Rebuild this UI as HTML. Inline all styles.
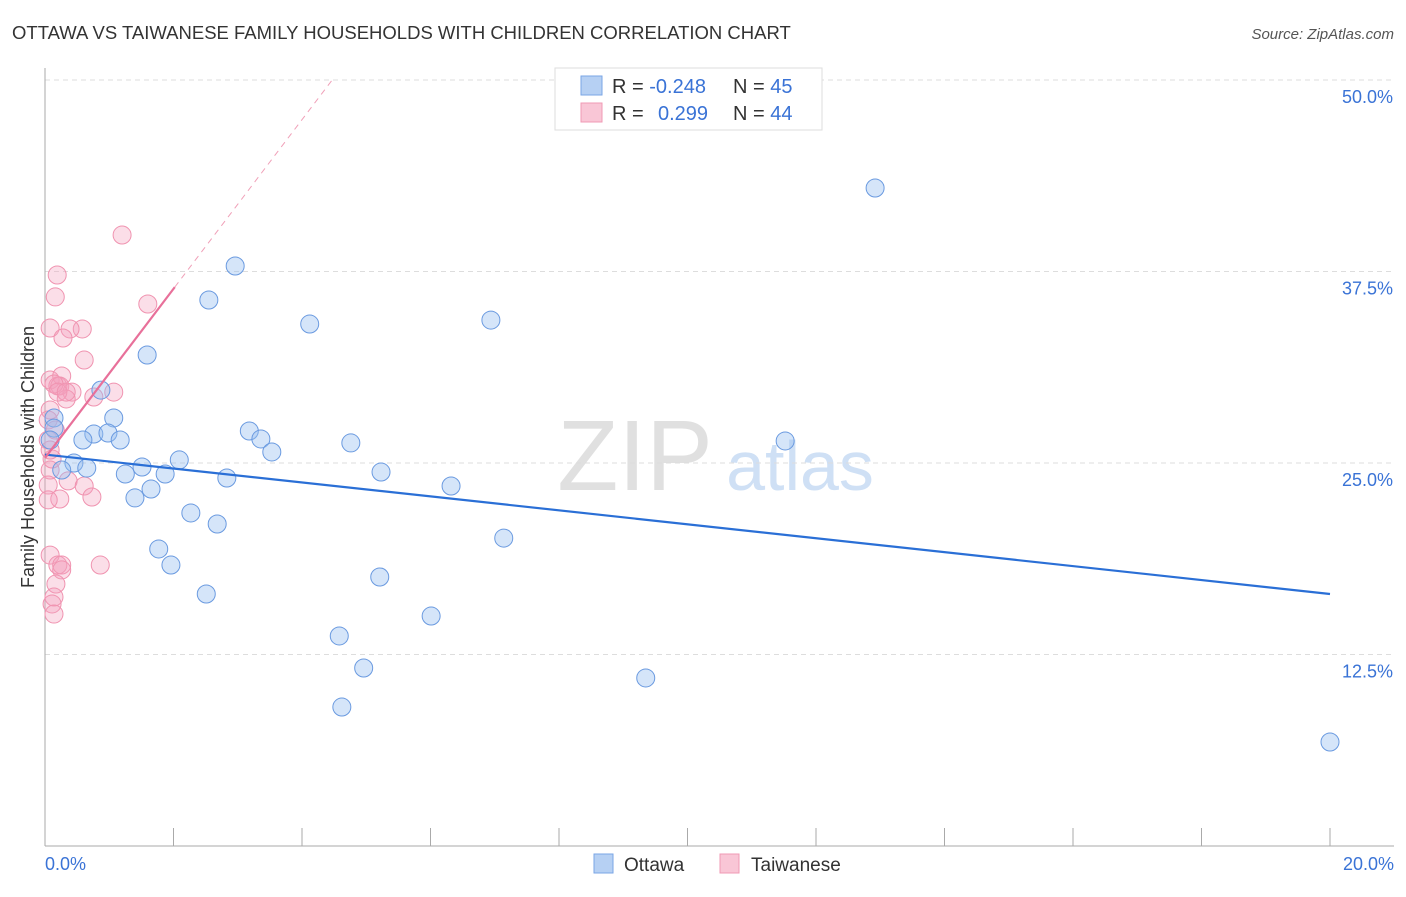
<!DOCTYPE html>
<html><head><meta charset="utf-8"><style>
body{margin:0;background:#fff;font-family:"Liberation Sans",sans-serif;}
svg text{font-family:"Liberation Sans",sans-serif;}
</style></head><body>
<svg id="chart" width="1406" height="892">
<text x="12" y="39" font-size="18.5" fill="#333">OTTAWA VS TAIWANESE FAMILY HOUSEHOLDS WITH CHILDREN CORRELATION CHART</text>
<text x="1394" y="39" font-size="15" fill="#555" font-style="italic" text-anchor="end">Source: ZipAtlas.com</text>
<text x="0" y="0" transform="translate(34,457) rotate(-90)" font-size="18" fill="#333" text-anchor="middle">Family Households with Children</text>
<g><text x="635" y="490" font-size="100" fill="#e0e0e0" font-family="Liberation Serif" text-anchor="middle">ZIP</text><text x="800" y="490" font-size="70" fill="#cfe0f5" text-anchor="middle">atlas</text></g>
<g id="grid"></g><g id="axes"></g><g id="pts"></g><g id="lines"></g>
<g>
<rect x="555" y="68" width="267" height="62" fill="#fff" stroke="#ddd"/>
<rect x="581" y="76" width="21" height="19" fill="#b6d0f3" stroke="#7aa6e6"/>
<rect x="581" y="103" width="21" height="19" fill="#f9c6d6" stroke="#f09ab4"/>
<text x="612" y="93" font-size="20" fill="#333">R = <tspan fill="#3a73d6">-0.248</tspan></text>
<text x="733" y="93" font-size="20" fill="#333">N = <tspan fill="#3a73d6">45</tspan></text>
<text x="612" y="120" font-size="20" fill="#333">R = <tspan fill="#3a73d6" x="658">0.299</tspan></text>
<text x="733" y="120" font-size="20" fill="#333">N = <tspan fill="#3a73d6">44</tspan></text>
</g>
<g>
<rect x="594" y="854" width="19" height="19" fill="#b6d0f3" stroke="#7aa6e6"/>
<text x="624" y="871" font-size="19" fill="#333">Ottawa</text>
<rect x="720" y="854" width="19" height="19" fill="#f9c6d6" stroke="#f09ab4"/>
<text x="751" y="871" font-size="19" fill="#333">Taiwanese</text>
</g>
</svg>
<script>
const yTicks=[12.5,25,37.5,50];
const yTickLabels=["12.5%","25.0%","37.5%","50.0%"];
const xTicks=[0,2,4,6,8,10,12,14,16,18,20];
const ottawaX=[12.92,2.96,2.55,4.12,6.94,1.59,0.87,1.07,0.14,0.14,0.76,0.98,1.17,0.59,3.18,3.36,3.53,4.76,11.52,0.08,2.09,1.51,1.87,1.25,0.45,0.65,0.26,2.83,5.23,6.32,1.65,1.40,2.27,2.68,7.14,1.77,1.96,5.21,2.51,6.01,4.58,4.96,9.35,4.62,20.0];
const ottawaY=[42.95,37.86,35.64,34.07,34.33,32.05,29.76,27.94,27.94,27.28,26.89,26.96,26.50,26.50,27.09,26.57,25.72,26.31,26.44,26.50,25.20,24.74,24.28,24.28,25.00,24.67,24.54,24.02,24.41,23.50,23.30,22.72,21.74,21.02,20.10,19.39,18.34,17.56,16.45,15.01,13.71,11.62,10.97,9.07,6.79];
const taiX=[1.20,0.19,0.16,1.60,0.08,0.58,0.39,0.28,0.61,0.08,0.26,0.20,0.23,0.14,0.42,1.07,0.76,0.33,0.08,0.05,0.08,0.11,0.05,0.36,0.61,0.73,0.23,0.05,0.08,0.20,0.26,0.26,0.86,0.17,0.14,0.11,0.14,0.05,0.20,0.33,0.08,0.16];
const taiY=[39.88,37.27,35.84,35.38,33.81,33.75,33.75,33.16,31.72,30.42,30.68,30.03,30.03,30.16,29.63,29.63,29.31,29.18,28.46,27.81,24.54,25.26,23.56,23.83,23.50,22.78,22.65,22.59,18.99,18.34,18.34,18.02,18.34,17.10,16.25,15.80,15.14,26.50,29.63,29.63,25.85,27.15];
const ottawaTrend=[25.55,16.45];
const taiTrend=[25.33,5.52];
const NS='http://www.w3.org/2000/svg';
const X0=45,X1=1330,Y0=846,Y1=80;
const sx=v=>X0+(v/20)*(X1-X0), sy=v=>Y0-(v/50)*(Y0-Y1);
function mk(tag,attrs,parent){const e=document.createElementNS(NS,tag);for(const k in attrs)e.setAttribute(k,attrs[k]);document.getElementById(parent).appendChild(e);return e;}
yTicks.forEach((t,i)=>{
 const g=mk('line',{x1:X0,x2:1394,y1:sy(t),y2:sy(t),stroke:'#ddd','stroke-dasharray':'5,4'},'grid');
 
 
 const l=mk('text',{x:1393,y:sy(t)+23,'font-size':18,fill:'#3a73d6','text-anchor':'end'},'grid');
 l.textContent=yTickLabels[i];
 
 
});
const ax=mk('line',{x1:X0,x2:X0,y1:68,y2:Y0,stroke:'#aaa'},'axes');


const bx=mk('line',{x1:X0,x2:1394,y1:Y0,y2:Y0,stroke:'#aaa'},'axes');


xTicks.forEach(t=>{
 const k=mk('line',{x1:sx(t),x2:sx(t),y1:828,y2:Y0,stroke:'#aaa'},'axes');
 
 
});
const xl0=mk('text',{x:45,y:870,'font-size':18,fill:'#3a73d6'},'axes');xl0.textContent='0.0%';


const xl1=mk('text',{x:1394,y:870,'font-size':18,fill:'#3a73d6','text-anchor':'end'},'axes');xl1.textContent='20.0%';


taiX.forEach((v,i)=>{
 const c=mk('circle',{cx:sx(v),cy:sy(taiY[i]),r:9,fill:'rgba(244,160,190,0.35)',stroke:'#f093b0','stroke-width':1},'pts');
 
 
});
ottawaX.forEach((v,i)=>{
 const c=mk('circle',{cx:sx(v),cy:sy(ottawaY[i]),r:9,fill:'rgba(150,190,240,0.4)',stroke:'#6a9ae0','stroke-width':1},'pts');
 
 
});
const bl=mk('line',{x1:sx(0),y1:sy(ottawaTrend[0]),x2:sx(20),y2:sy(ottawaTrend[1]),stroke:'#2a6fd6','stroke-width':2.2},'lines');


const xEnd=(50-taiTrend[0])/taiTrend[1];
const pd=mk('line',{x1:sx(2.02),y1:sy(taiTrend[0]+taiTrend[1]*2.02),x2:sx(xEnd),y2:sy(50),stroke:'#f0a0b8','stroke-width':1,'stroke-dasharray':'6,5'},'lines');


const pl=mk('line',{x1:sx(0),y1:sy(taiTrend[0]),x2:sx(2.02),y2:sy(taiTrend[0]+taiTrend[1]*2.02),stroke:'#e8709a','stroke-width':2.2},'lines');


</script>
</body></html>
